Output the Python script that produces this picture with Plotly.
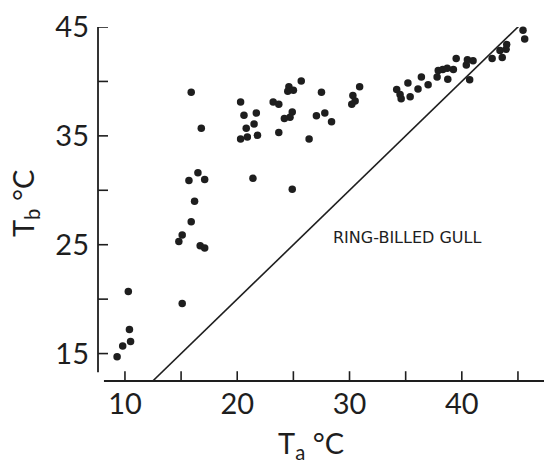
import plotly.graph_objects as go

# Air temperature (Ta, °C) and body temperature (Tb, °C)
ta = [9.3, 9.8, 10.5, 10.4, 10.3, 15.1,
      15.9, 16.8, 16.5, 15.7, 17.1, 16.2, 15.9, 15.1, 14.8, 16.7, 17.1,
      20.3, 20.6, 21.7, 21.5, 20.8, 20.9, 20.3, 21.8, 21.4,
      23.2, 23.7, 24.6, 24.5, 25.0, 25.7, 27.5, 24.9, 24.7, 24.2, 23.7,
      27.05, 27.8, 28.4, 26.4, 24.9,
      30.9, 30.3, 30.5, 30.2,
      34.2, 34.5, 34.6, 35.2, 35.4, 36.1, 36.4, 37.0,
      37.9, 37.8, 38.3, 38.7, 38.75, 39.25,
      39.5, 40.4, 40.5, 41.0, 40.7, 42.7, 43.6, 43.4, 43.95, 44.0, 45.45, 45.6]
tb = [14.7, 15.7, 16.1, 17.2, 20.7, 19.6,
      39.0, 35.7, 31.6, 30.9, 31.0, 29.0, 27.1, 25.9, 25.3, 24.9, 24.7,
      38.1, 36.9, 37.1, 36.1, 35.7, 34.9, 34.7, 35.05, 31.1,
      38.1, 37.9, 39.5, 39.1, 39.2, 40.05, 39.0, 37.2, 36.7, 36.6, 35.3,
      36.85, 37.1, 36.3, 34.7, 30.1,
      39.5, 38.7, 38.2, 37.9,
      39.25, 38.8, 38.4, 39.85, 38.6, 39.3, 40.4, 39.7,
      41.0, 40.4, 41.1, 41.2, 40.2, 41.1,
      42.1, 41.5, 42.0, 41.9, 40.15, 42.1, 42.2, 42.85, 42.95, 43.4, 44.7, 43.9]

# Line of equality Tb = Ta
iso_line = [12.5, 45.5]

# tick marks every 5, labels every 10
x_tick_marks = [10, 15, 20, 25, 30, 35, 40, 45]
x_tick_labels = [10, 20, 30, 40]
y_tick_marks = [15, 20, 25, 30, 35, 40, 45]
y_tick_labels = [15, 25, 35, 45]

x_range = [7.6, 47.32]
y_range = [12.48, 45.0]
x_axis_span = [8.13, 47.32]
y_axis_span = [13.29, 45.0]

ink = "#1e1e1e"
font_family = "Lato, 'DejaVu Sans', sans-serif"

# plot area size in pixels (552x464 page minus margins)
plot_w = 552 - 98 - 8
plot_h = 464 - 19 - 83
tick_px = 10

fig = go.Figure()
fig.add_trace(go.Scatter(x=iso_line, y=iso_line, mode="lines",
                         line=dict(color=ink, width=1.6),
                         cliponaxis=False, hoverinfo="skip"))
fig.add_trace(go.Scatter(x=ta, y=tb, mode="markers",
                         marker=dict(color=ink, size=7.5, line=dict(width=0)),
                         cliponaxis=False))

# axis lines (not joined at the corner, as in the original)
fig.add_shape(type="line", xref="x", yref="paper",
              x0=x_axis_span[0], x1=x_axis_span[1], y0=0, y1=0,
              line=dict(color=ink, width=1.8))
fig.add_shape(type="line", xref="paper", yref="y",
              x0=0, x1=0, y0=y_axis_span[0], y1=y_axis_span[1],
              line=dict(color=ink, width=1.8))

# inward tick marks
for v in x_tick_marks:
    fig.add_shape(type="line", xref="x", yref="paper",
                  x0=v, x1=v, y0=0, y1=tick_px / plot_h,
                  line=dict(color=ink, width=1.6))
for v in y_tick_marks:
    fig.add_shape(type="line", xref="paper", yref="y",
                  x0=0, x1=tick_px / plot_w, y0=v, y1=v,
                  line=dict(color=ink, width=1.6))

fig.add_annotation(text="RING-BILLED GULL", xref="x", yref="y",
                   x=28.35, y=25.7, xanchor="left", yanchor="middle",
                   showarrow=False,
                   font=dict(family="'DejaVu Sans', sans-serif", size=16, color=ink))
fig.add_annotation(text="T<sub>a</sub> °C", xref="paper", yref="paper",
                   x=(311 - 98) / plot_w, y=(381 - 446) / plot_h,
                   xanchor="center", yanchor="middle", showarrow=False,
                   font=dict(family=font_family, size=29, color=ink))
fig.add_annotation(text="T<sub>b</sub> °C", xref="paper", yref="paper",
                   x=(24 - 98) / plot_w, y=(381 - 200) / plot_h, textangle=-90,
                   xanchor="center", yanchor="middle", showarrow=False,
                   font=dict(family=font_family, size=29, color=ink))

fig.update_layout(
    width=552, height=464,
    margin=dict(l=98, r=8, t=19, b=83),
    paper_bgcolor="white", plot_bgcolor="white",
    showlegend=False,
    font=dict(family=font_family, color=ink),
    xaxis=dict(range=x_range, showgrid=False, zeroline=False, showline=False,
               tickmode="array", tickvals=x_tick_labels,
               ticks="", tickfont=dict(size=29, color=ink, family=font_family),
               ticklabelstandoff=3),
    yaxis=dict(range=y_range, showgrid=False, zeroline=False, showline=False,
               tickmode="array", tickvals=y_tick_labels,
               ticks="", tickfont=dict(size=29, color=ink, family=font_family),
               ticklabelstandoff=8),
)

fig.write_html("out.html")
